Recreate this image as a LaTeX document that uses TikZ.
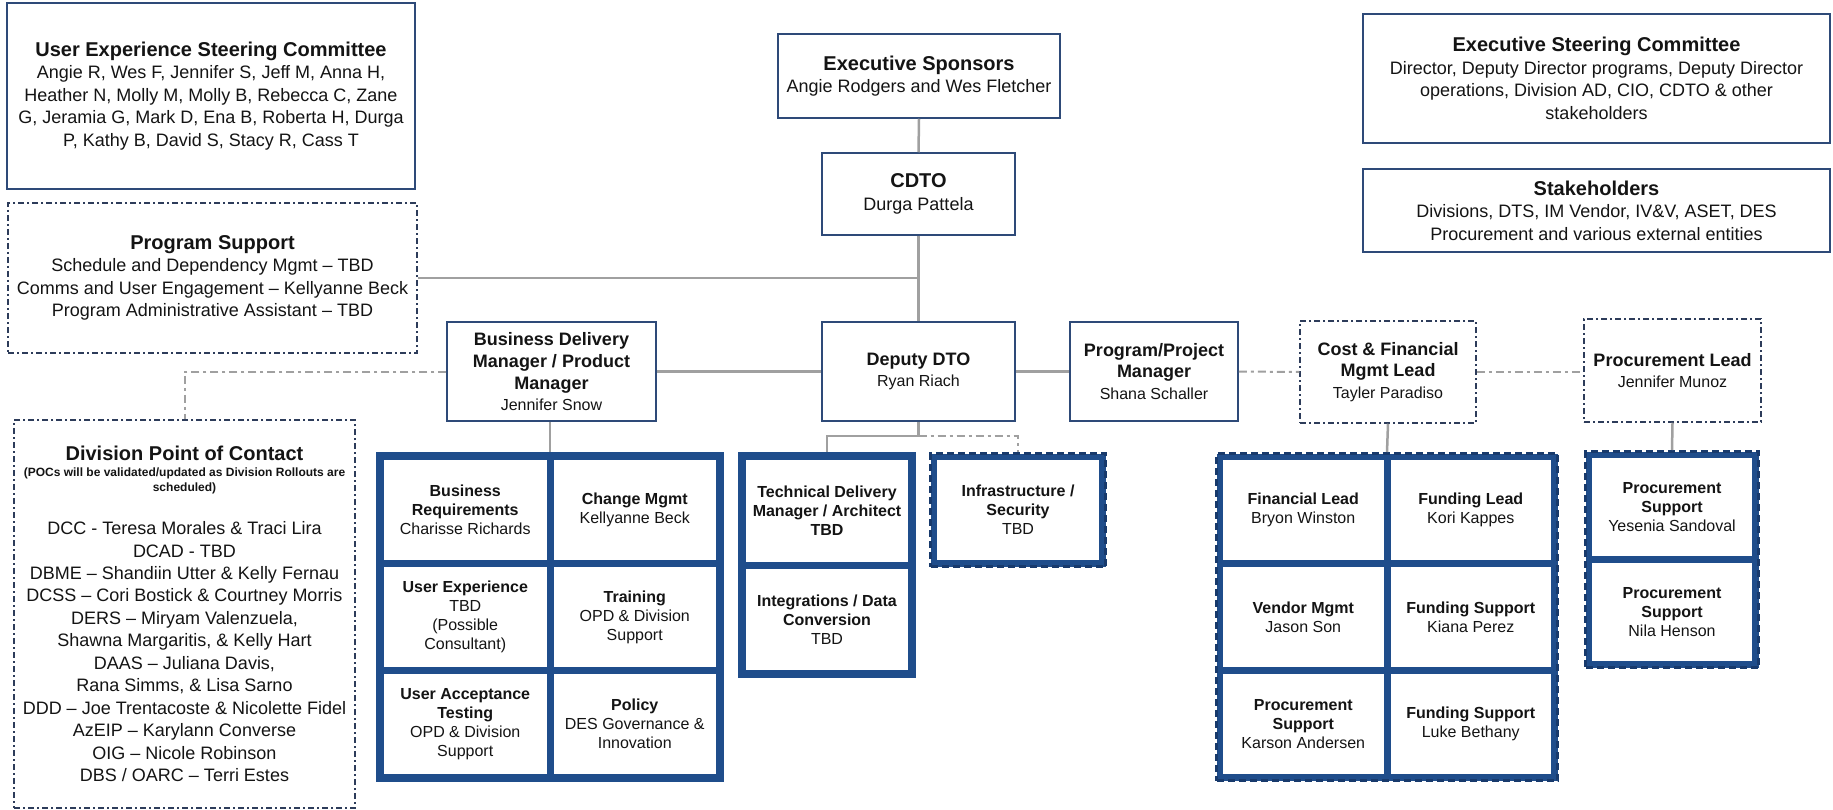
\documentclass[tikz,border=0pt]{standalone}
\usepackage{fontspec}
\setmainfont{Liberation Sans}
\definecolor{boxc}{RGB}{46,74,120}
\definecolor{dashc}{RGB}{45,60,90}
\definecolor{linec}{RGB}{160,160,160}
\definecolor{gridc}{RGB}{31,77,139}
\definecolor{gridd}{RGB}{24,58,108}
\definecolor{txt}{RGB}{20,20,20}
\newcommand{\hdBig}{\fontsize{20}{22.5}\selectfont\bfseries}
\newcommand{\hdMid}{\fontsize{18}{21.5}\selectfont\bfseries}
\tikzset{
  box/.style={draw=boxc, line width=1.5pt, fill=white, align=center, inner sep=0pt, text=txt},
  dbox/.style={box, draw=dashc, dash pattern=on 6pt off 3pt on 2pt off 3pt},
  bigfont/.style={font=\fontsize{18}{22.5}\selectfont},
  midfont/.style={font=\fontsize{16}{21.5}\selectfont},
  conn/.style={draw=linec, line width=2.5pt},
  dconn/.style={draw=linec, line width=2pt, dash pattern=on 8pt off 4pt on 3pt off 4pt},
  gridbox/.style={fill=gridc, inner sep=0pt},
  dgrid/.style={gridbox, draw=gridd, line width=3pt, dash pattern=on 7pt off 4pt},
  cell/.style={fill=white, align=center, inner sep=0pt, text=txt, font=\fontsize{16}{19}\selectfont},
}
\begin{document}
\begin{tikzpicture}[x=1pt,y=-1pt]
\useasboundingbox[fill=white] (0,0) rectangle (1833,810);

% top-left committees
\node[box, bigfont, minimum width=408pt, minimum height=186pt] (uxsc) at (211,96)
 {{\hdBig User Experience Steering Committee}\\
  Angie R, Wes F, Jennifer S, Jeff M, Anna H,\\
  Heather N, Molly M, Molly B, Rebecca C, Zane\\
  G, Jeramia G, Mark D, Ena B, Roberta H, Durga\\
  P, Kathy B, David S, Stacy R, Cass T};

\node[dbox, bigfont, minimum width=409pt, minimum height=150pt] (psup) at (212.5,278)
 {{\hdBig Program Support}\\
  Schedule and Dependency Mgmt – TBD\\
  Comms and User Engagement – Kellyanne Beck\\
  Program Administrative Assistant – TBD};

\node[dbox, font=\fontsize{18}{22.45}\selectfont, minimum width=341pt, minimum height=388pt] (poc) at (184.5,614)
 {{\hdBig Division Point of Contact}\\[-6.5pt]
  {\fontsize{12}{15}\selectfont\bfseries (POCs will be validated/updated as Division Rollouts are}\\[-7.5pt]
  {\fontsize{12}{15}\selectfont\bfseries scheduled)}\\[20.5pt]
  DCC - Teresa Morales \& Traci Lira\\
  DCAD - TBD\\
  DBME – Shandiin Utter \& Kelly Fernau\\
  DCSS – Cori Bostick \& Courtney Morris\\
  DERS – Miryam Valenzuela,\\
  Shawna Margaritis, \& Kelly Hart\\
  DAAS – Juliana Davis,\\
  Rana Simms, \& Lisa Sarno\\
  DDD – Joe Trentacoste \& Nicolette Fidel\\
  AzEIP – Karylann Converse\\
  OIG – Nicole Robinson\\
  DBS / OARC – Terri Estes};

% central chain
\node[box, bigfont, minimum width=282pt, minimum height=84pt] (es) at (919,76)
 {{\hdBig Executive Sponsors}\\ Angie Rodgers and Wes Fletcher};
\node[box, bigfont, minimum width=193pt, minimum height=82pt] (cdto) at (918.5,194)
 {{\hdBig CDTO}\\ Durga Pattela};
\node[box, midfont, minimum width=193pt, minimum height=99pt] (ddto) at (918.5,371.5)
 {{\hdMid Deputy DTO}\\ Ryan Riach};
\node[box, font=\fontsize{16}{22}\selectfont, minimum width=209pt, minimum height=99pt] (bdm) at (551.5,371.5)
 {{\hdMid Business Delivery}\\{\hdMid Manager / Product}\\{\hdMid Manager}\\[-1pt] Jennifer Snow};
\node[box, midfont, minimum width=168pt, minimum height=99pt] (ppm) at (1154,371.5)
 {{\hdMid Program/Project}\\{\hdMid Manager}\\ Shana Schaller};
\node[dbox, midfont, minimum width=176pt, minimum height=102pt] (cost) at (1388,372)
 {{\hdMid Cost \& Financial}\\{\hdMid Mgmt Lead}\\ Tayler Paradiso};
\node[dbox, midfont, minimum width=177pt, minimum height=103pt] (plead) at (1672.5,370.5)
 {{\hdMid Procurement Lead}\\ Jennifer Munoz};

% top-right committees
\node[box, bigfont, minimum width=467pt, minimum height=129pt] (esc) at (1596.5,78.5)
 {{\hdBig Executive Steering Committee}\\
  Director, Deputy Director programs, Deputy Director\\
  operations, Division AD, CIO, CDTO \& other\\
  stakeholders};
\node[box, bigfont, minimum width=467pt, minimum height=83pt] (stk) at (1596.5,210.5)
 {{\hdBig Stakeholders}\\
  Divisions, DTS, IM Vendor, IV\&V, ASET, DES\\
  Procurement and various external entities};

% grids
\node[gridbox, minimum width=348pt, minimum height=330pt] (bdmgrid) at (550,617) {};
\node[cell, minimum width=162.5pt, minimum height=100pt] (b11) at (465.25,510)
 {\textbf{Business}\\\textbf{Requirements}\\Charisse Richards};
\node[cell, minimum width=162.5pt, minimum height=100pt] (b12) at (634.75,510)
 {\textbf{Change Mgmt}\\Kellyanne Beck};
\node[cell, minimum width=162.5pt, minimum height=100pt] (b21) at (465.25,617)
 {\textbf{User Experience}\\TBD\\(Possible\\Consultant)};
\node[cell, minimum width=162.5pt, minimum height=100pt] (b22) at (634.75,617)
 {\textbf{Training}\\OPD \& Division\\Support};
\node[cell, minimum width=162.5pt, minimum height=100pt] (b31) at (465.25,724)
 {\textbf{User Acceptance}\\\textbf{Testing}\\OPD \& Division\\Support};
\node[cell, minimum width=162.5pt, minimum height=100pt] (b32) at (634.75,724)
 {\textbf{Policy}\\DES Governance \&\\Innovation};

\node[gridbox, minimum width=178pt, minimum height=226pt] (tdmgrid) at (827,565) {};
\node[cell, minimum width=162pt, minimum height=101.5pt] (t1) at (827,510.75)
 {\textbf{Technical Delivery}\\\textbf{Manager / Architect}\\\textbf{TBD}};
\node[cell, minimum width=162pt, minimum height=101.5pt] (t2) at (827,619.25)
 {\textbf{Integrations / Data}\\\textbf{Conversion}\\TBD};

\node[dgrid, minimum width=175pt, minimum height=113pt] (infgrid) at (1018,510) {};
\node[cell, minimum width=162pt, minimum height=100pt] (i1) at (1018,510)
 {\textbf{Infrastructure /}\\\textbf{Security}\\TBD};

\node[dgrid, minimum width=341pt, minimum height=327pt] (costgrid) at (1387,617) {};
\node[cell, minimum width=160.5pt, minimum height=100pt] (f11) at (1303.25,510)
 {\textbf{Financial Lead}\\Bryon Winston};
\node[cell, minimum width=160.5pt, minimum height=100pt] (f12) at (1470.75,510)
 {\textbf{Funding Lead}\\Kori Kappes};
\node[cell, minimum width=160.5pt, minimum height=100pt] (f21) at (1303.25,617)
 {\textbf{Vendor Mgmt}\\Jason Son};
\node[cell, minimum width=160.5pt, minimum height=100pt] (f22) at (1470.75,617)
 {\textbf{Funding Support}\\Kiana Perez};
\node[cell, minimum width=160.5pt, minimum height=100pt] (f31) at (1303.25,724)
 {\textbf{Procurement}\\\textbf{Support}\\Karson Andersen};
\node[cell, minimum width=160.5pt, minimum height=100pt] (f32) at (1470.75,724)
 {\textbf{Funding Support}\\Luke Bethany};

\node[dgrid, minimum width=173pt, minimum height=216pt] (procgrid) at (1672,559.5) {};
\node[cell, minimum width=160pt, minimum height=98pt] (p1) at (1672,507)
 {\textbf{Procurement}\\\textbf{Support}\\Yesenia Sandoval};
\node[cell, minimum width=160pt, minimum height=98pt] (p2) at (1672,612)
 {\textbf{Procurement}\\\textbf{Support}\\Nila Henson};

% connectors
\draw[conn] (es.south) -- (cdto.north);
\draw[conn] (cdto.south) -- (ddto.north);
\draw[conn] (psup.east) -- (psup.east -| cdto.south);
\draw[conn] (bdm.east) -- (ddto.west);
\draw[conn] (ddto.east) -- (ppm.west);
\draw[dconn] (ppm.east) -- (cost.west);
\draw[dconn] (cost.east) -- (cost.east -| plead.west);
\draw[dconn] (bdm.west) -| (poc.north);
\draw[conn] (bdm.south -| bdmgrid.north) -- (bdmgrid.north);
\draw[conn] (ddto.south) -- ++(0,14) coordinate (dj) -| (tdmgrid.north);
\draw[dconn] (dj) -| (infgrid.north);
\draw[conn] (cost.south) -- (costgrid.north);
\draw[conn] (plead.south) -- (procgrid.north);
\end{tikzpicture}
\end{document}
